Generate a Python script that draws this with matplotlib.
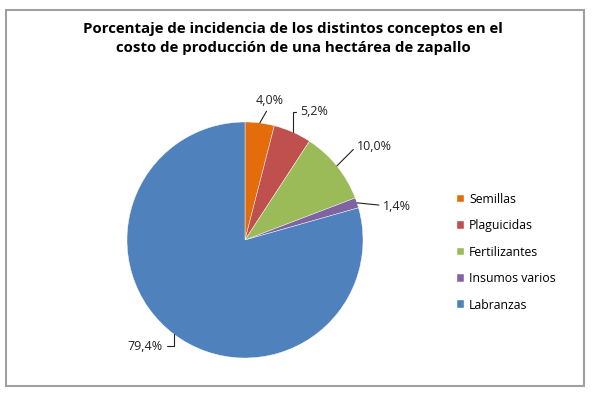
import matplotlib
matplotlib.use("Agg")
import matplotlib.pyplot as plt
import numpy as np
from matplotlib.patches import Rectangle

title = "Porcentaje de incidencia de los distintos conceptos en el\ncosto de producción de una hectárea de zapallo"
concepts = ["Semillas", "Plaguicidas", "Fertilizantes", "Insumos varios", "Labranzas"]
shares = [4.0, 5.2, 10.0, 1.4, 79.4]
colors = ["#E46C0A", "#C0504D", "#9BBB59", "#8064A2", "#4F81BD"]
value_labels = ["4,0%", "5,2%", "10,0%", "1,4%", "79,4%"]

# label placement (data units of the pie axes) and leader-line shapes
label_pos = [(0.21, 1.18), (0.47, 1.085), (0.95, 0.79), (1.17, 0.28), (-0.70, -0.90)]
label_ha = ["center", "left", "left", "left", "right"]
conn = [
    "angle,angleA=-90,angleB=60,rad=0",
    "angle,angleA=180,angleB=90,rad=0",
    "angle,angleA=180,angleB=45,rad=0",
    "arc3,rad=0",
    "angle,angleA=0,angleB=90,rad=0",
]

plt.rcParams["font.family"] = ["Open Sans", "DejaVu Sans"]

fig = plt.figure(figsize=(5.94, 3.96), dpi=100)
fig.patches.append(Rectangle((6 / 594, 10 / 396), 578 / 594, 376 / 396, transform=fig.transFigure,
                             fill=False, edgecolor="#A0A0A0", linewidth=1.5))

fig.text(0.494, 0.903, title, ha="center", va="center", fontsize=10.8, fontweight="bold",
         linespacing=1.45, color="#000000")

ax = fig.add_axes([127 / 594, 38 / 396, 236 / 594, 236 / 396])
wedges, _ = ax.pie(shares, colors=colors, startangle=90, counterclock=False, radius=1.0,
                   wedgeprops=dict(linewidth=0.3, edgecolor="white"))
ax.set_xlim(-1, 1)
ax.set_ylim(-1, 1)
ax.set_aspect("equal")

start = 90.0
for i, share in enumerate(shares):
    mid = np.deg2rad(start - share * 3.6 / 2)
    start -= share * 3.6
    xy = (np.cos(mid), np.sin(mid))
    ax.annotate(value_labels[i], xy=xy, xytext=label_pos[i], ha=label_ha[i], va="center",
                fontsize=9, color="#222222", annotation_clip=False,
                arrowprops=dict(arrowstyle="-", color="#222222", lw=0.8,
                                shrinkA=1, shrinkB=0, connectionstyle=conn[i]))

fig.legend(wedges, concepts, loc="upper left", bbox_to_anchor=(452 / 594, 1 - 188 / 396),
           frameon=False, fontsize=8.8, handlelength=0.6, handleheight=0.6, handletextpad=0.4,
           labelspacing=1.1, borderaxespad=0)

fig.savefig("out.png", dpi=100)
